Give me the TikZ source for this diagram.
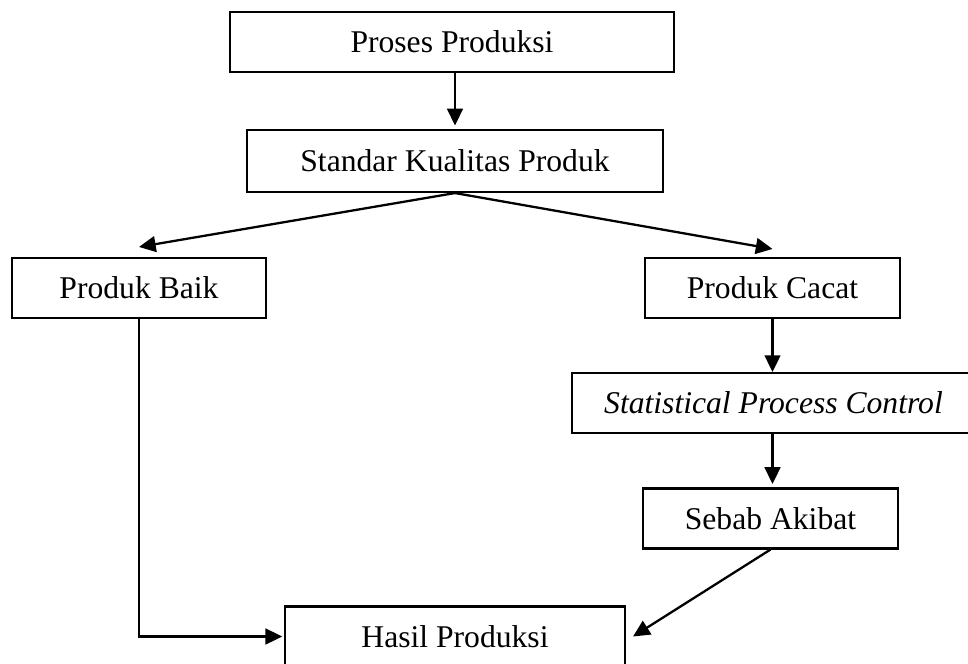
\documentclass[tikz,border=0pt]{standalone}
\usepackage{fontspec}
\setmainfont{Liberation Serif}
\usetikzlibrary{arrows.meta,positioning,calc}
\tikzset{
  flowbox/.style={draw, line width=1.2pt, font=\fontsize{18pt}{21pt}\selectfont,
                  minimum width=#1, minimum height=1.2cm, inner sep=2pt},
  flowarrow/.style={-{Triangle[length=9.5pt, width=9pt]}, line width=1.3pt},
}

\begin{document}
\begin{tikzpicture}

\useasboundingbox (0,0) rectangle (19.36,-13.28);

% Top: process and standard
\node[flowbox=8.88cm] (proses) at (9.04,-0.84) {Proses Produksi};
\node[flowbox=8.32cm, minimum height=1.24cm] (standar) at (9.10,-3.22) {Standar Kualitas Produk};

\draw[flowarrow, shorten >=2pt] (standar.north |- proses.south) -- (standar.north);

% Split: good and defective products
\node[flowbox=5.08cm] (baik) at (2.78,-5.76) {Produk Baik};
\node[flowbox=5.10cm] (cacat) at (15.45,-5.76) {Produk Cacat};

\draw[flowarrow] (standar.south) -- ([yshift=0.2cm]baik.north);
\draw[flowarrow] (standar.south) -- ([yshift=0.16cm]cacat.north);

% Defect branch
\node[flowbox=8.06cm] (spc) at (15.47,-8.06) {\textit{Statistical Process Control}};
\node[flowbox=5.10cm] (sebab) at (15.41,-10.37) {Sebab Akibat};

\draw[flowarrow] (cacat.south) -- (cacat.south |- spc.north);
\draw[flowarrow, shorten >=2pt] (cacat.south |- spc.south) -- (cacat.south |- sebab.north);

% Result
\node[flowbox=6.80cm] (hasil) at (9.10,-12.73) {Hasil Produksi};

\draw[flowarrow, shorten >=1pt] (baik.south) |- (hasil.west);
\draw[flowarrow] (sebab.south) -- ([xshift=0.14cm]hasil.east);

\end{tikzpicture}
\end{document}
